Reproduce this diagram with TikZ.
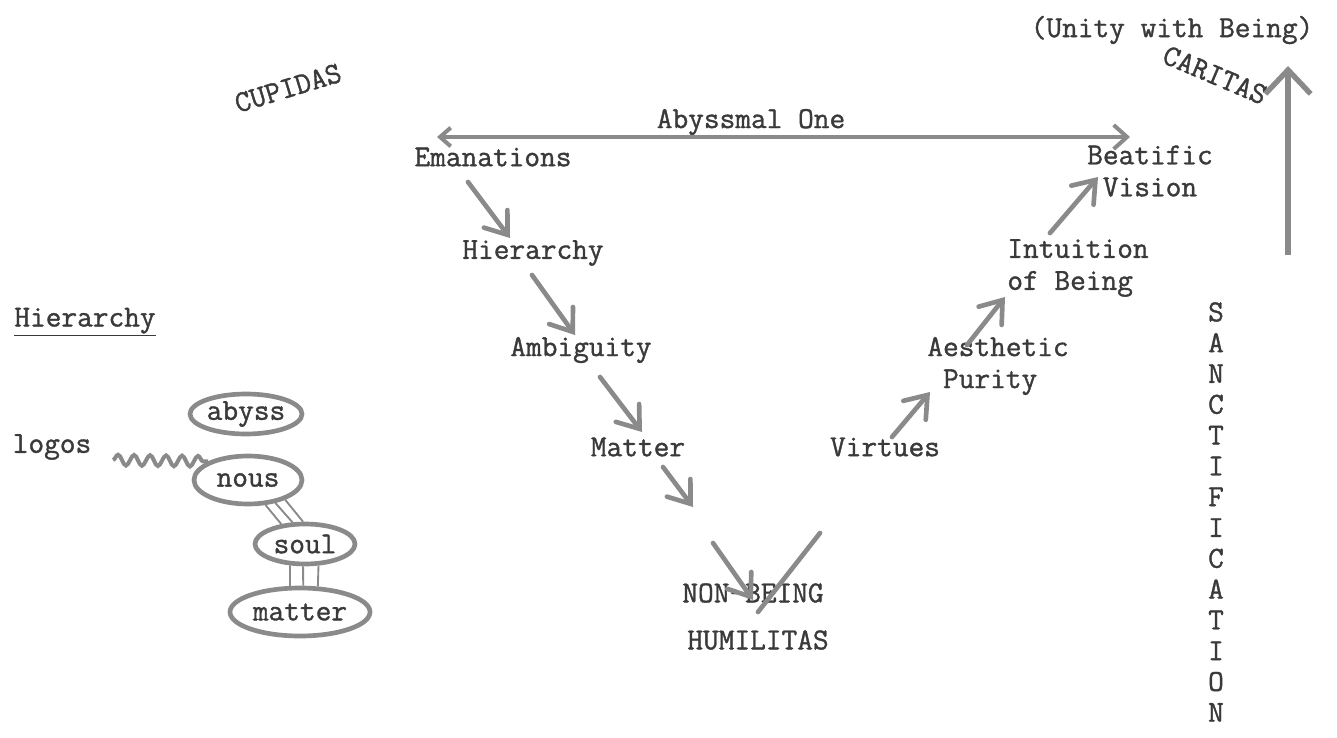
\documentclass[tikz,border=0pt]{standalone}
\usepackage{fontspec}
\newfontfamily\twfam{Latin Modern Mono}[FakeBold=1.2]
\usetikzlibrary{arrows.meta,shapes.geometric,decorations.pathmorphing,calc}
\definecolor{ink}{HTML}{3A3A3A}
\definecolor{pen}{HTML}{8A8A8A}
\newcommand{\twfont}{\twfam\fontsize{22.86}{24}\selectfont}
\begin{document}
\begin{tikzpicture}[x=0.75pt,y=-0.75pt,
  lbl/.style={text=ink,font=\twfont,inner sep=0pt},
  arr/.style={draw=pen,line width=3.5pt,line cap=round,-{Straight Barb[length=15pt,width=22pt,line cap=round]}},
  plainline/.style={draw=pen,line width=3.5pt,line cap=round},
  oval/.style={ellipse,draw=pen,line width=3.5pt,text=ink,font=\twfont,inner sep=0pt},
  tie/.style={draw=pen,line width=1.4pt},
]
\useasboundingbox (0,0) rectangle (1337,738);

% text labels
\node[lbl] (unity) at (1172,30) {(Unity with Being)};
\node[lbl,rotate=17] (cupidas) at (288,88) {CUPIDAS};
\node[lbl,rotate=-23] (caritas) at (1215,75) {CARITAS};
\node[lbl] (abyssmal) at (751,122) {Abyssmal One};
\node[lbl] (emanations) at (493,157) {Emanations};
\node[lbl,align=left] (beatific) at (1150,171) {Beatific\\\hphantom{B}Vision};
\node[lbl] (hier) at (533,253) {Hierarchy};
\node[lbl,align=left] (intuition) at (1078,268) {Intuition\\of Being};
\node[lbl] (ambig) at (581,350) {Ambiguity};
\node[lbl,align=left] (aesthetic) at (998,366) {Aesthetic\\\hphantom{A}Purity};
\node[lbl] (matter) at (638,447) {Matter};
\node[lbl] (virtues) at (885,447) {Virtues};
\node[lbl] (nonbeing) at (753,593) {NON-BEING};
\node[lbl] (humilitas) at (758,640) {HUMILITAS};
\node[lbl] (hierleft) at (85,322) {\underline{Hierarchy}};
\node[lbl] (logos) at (52,447) {logos};
\node[lbl,align=center,font=\twfam\fontsize{22.86}{23.1}\selectfont] (sanct) at (1216,512)
  {S\\A\\N\\C\\T\\I\\F\\I\\C\\A\\T\\I\\O\\N};

% ovals of the hierarchy
\node[oval,minimum width=84pt,minimum height=30pt] (abyss) at (246,414) {abyss};
\node[oval,minimum width=81pt,minimum height=36pt] (nous) at (248,480) {nous};
\node[oval,minimum width=75pt,minimum height=30pt] (soul) at (305,544) {soul};
\node[oval,minimum width=105pt,minimum height=36pt] (mattero) at (300,612) {matter};

\draw[tie] (nous.-55) -- (soul.140);
\draw[tie] (nous.-40) -- (soul.120);
\draw[tie] (nous.-28) -- (soul.95);
\draw[tie] (soul.-125) -- (mattero.111);
\draw[tie] (soul.-95) -- (mattero.83);
\draw[tie] (soul.-58) -- (mattero.55);

\coordinate (wstart) at (113,460);
\draw[draw=pen,line width=3pt,decorate,decoration={snake,amplitude=4pt,segment length=12pt,post length=3pt}] (wstart) -- (nous.155);

% arrows
\coordinate (hl) at (437,137);
\coordinate (hr) at (1130,137);
\draw[draw=pen,line width=3pt,{Straight Barb[length=8pt,width=14pt]}-{Straight Barb[length=10pt,width=18pt]}] (hl) -- (hr);

\coordinate (a1s) at (468,182); \coordinate (a1e) at (510,238);
\coordinate (a2s) at (532,275); \coordinate (a2e) at (575,335);
\coordinate (a3s) at (600,377); \coordinate (a3e) at (642,432);
\coordinate (a4s) at (663,467); \coordinate (a4e) at (693,507);
\coordinate (a5s) at (713,543); \coordinate (a5e) at (753,600);
\coordinate (l6s) at (758,612); \coordinate (l6e) at (820,533);
\coordinate (a7s) at (892,437); \coordinate (a7e) at (930,392);
\coordinate (a8s) at (967,345); \coordinate (a8e) at (1005,297);
\coordinate (a9s) at (1050,233); \coordinate (a9e) at (1098,177);
\coordinate (ups) at (1288,255); \coordinate (upe) at (1288,66);

\draw[arr] (a1s) -- (a1e);
\draw[arr] (a2s) -- (a2e);
\draw[arr] (a3s) -- (a3e);
\draw[arr] (a4s) -- (a4e);
\draw[arr] (a5s) -- (a5e);
\draw[plainline] (l6s) -- (l6e);
\draw[arr] (a7s) -- (a7e);
\draw[arr] (a8s) -- (a8e);
\draw[arr] (a9s) -- (a9e);
\draw[draw=pen,line width=4pt,-{Straight Barb[length=18pt,width=34pt]}] (ups) -- (upe);
\end{tikzpicture}
\end{document}
